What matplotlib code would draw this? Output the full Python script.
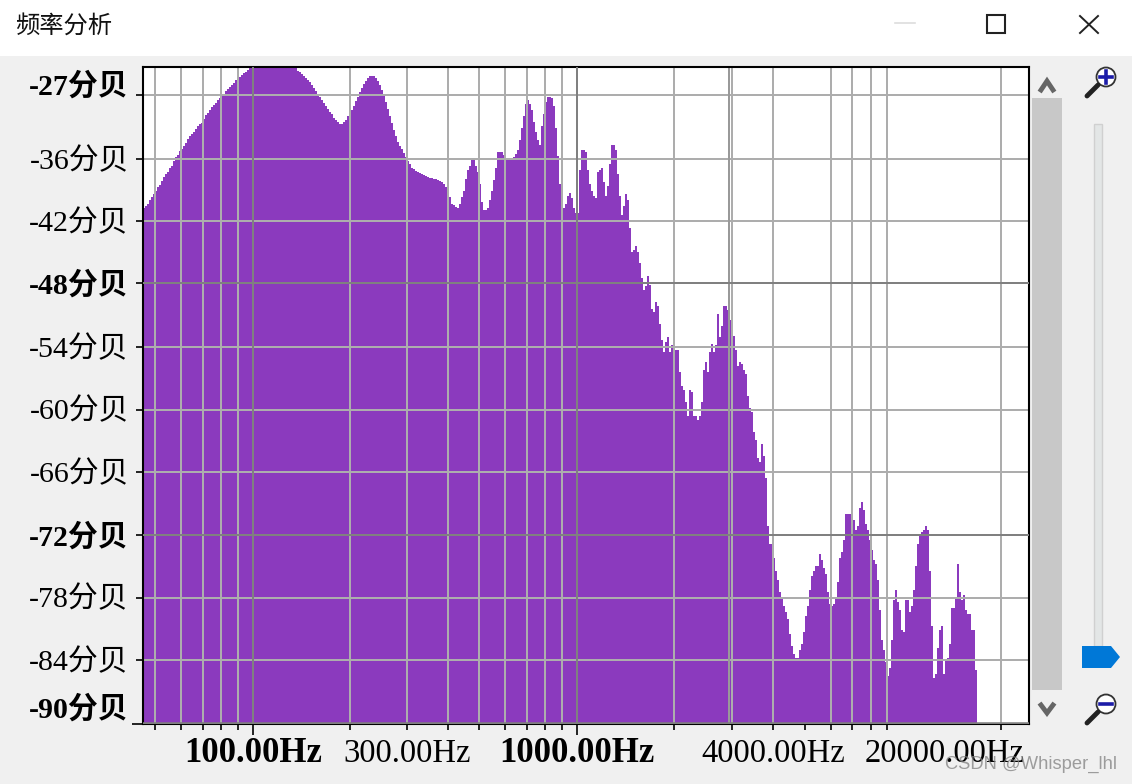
import numpy as np
import matplotlib
matplotlib.use('Agg')
import matplotlib.pyplot as plt
from matplotlib.patches import Rectangle, Polygon, Circle

plt.rcParams['font.family'] = ['Liberation Serif', 'Noto Sans CJK SC', 'DejaVu Sans']

# spectrum level per display bin (dB) left to right
levels_db = [
    -40.7, -40.5, -40.3, -39.9, -39.6, -39.3, -39.0, -38.7, -38.5, -38.1,
    -37.7, -37.4, -37.2, -36.8, -36.6, -36.2, -35.8, -35.6, -35.2, -35.0,
    -34.7, -34.4, -34.1, -33.8, -33.6, -33.4, -33.1, -32.8, -32.6, -32.5,
    -32.1, -31.8, -31.6, -31.3, -31.0, -30.8, -30.6, -30.3, -30.1, -29.9,
    -29.7, -29.5, -29.3, -29.1, -28.9, -28.7, -28.4, -28.3, -28.1, -27.9,
    -27.7, -27.6, -27.4,
    -27.1, -27.0, -26.9, -26.8, -26.7, -26.6, -26.5, -26.5, -26.4, -26.4,
    -26.4, -26.4, -26.4, -26.4, -26.5, -26.5, -26.6, -26.6, -26.7, -26.8,
    -26.9, -27.0, -27.1,
    -27.3, -27.5, -27.6, -27.8, -28.0, -28.2, -28.4, -28.6, -28.9, -29.2,
    -29.5, -29.8, -30.0, -30.3, -30.6, -30.9, -31.2, -31.5, -31.7, -32.0,
    -32.2, -32.4, -32.6, -32.6, -32.4, -32.2, -31.9, -31.7, -31.3, -30.9,
    -30.4, -30.0, -29.6, -29.2, -28.8, -28.5, -28.2, -28.0, -28.0, -28.0,
    -28.2, -28.5, -28.9, -29.4, -29.9, -30.5, -31.2, -31.9, -32.5, -33.2,
    -33.8, -34.3, -34.7, -35.0, -35.4, -35.8, -36.2, -36.5, -36.8, -36.9,
    -37.1, -37.2, -37.3,
    -37.4, -37.5, -37.6, -37.7, -37.8, -37.8, -37.9, -37.9, -38.0, -38.1,
    -38.2, -38.4, -38.7, -39.1, -39.6, -40.3, -40.4, -40.6, -40.7, -40.3,
    -39.6, -39.0, -37.9, -37.0, -36.6, -36.1, -36.1, -36.6, -37.2, -38.4,
    -40.1, -40.9, -40.9, -40.7, -39.9, -39.0, -38.0, -36.8, -35.3, -35.3,
    -35.3, -35.6, -35.9, -35.9, -35.9, -35.9, -35.8, -35.5, -35.1, -34.2,
    -33.0, -31.9, -30.7, -30.3, -30.7, -31.3, -32.4, -33.4, -34.2, -34.6,
    -32.8, -31.7, -30.5, -30.0, -30.0, -30.1, -30.9, -33.0, -35.7, -38.4,
    -40.7, -40.7, -40.3, -39.5, -39.2, -39.7, -40.7, -41.1, -41.1, -37.0,
    -35.1, -35.1, -35.3, -37.0, -38.4, -39.0, -39.5, -39.7, -37.2, -37.0,
    -36.8, -38.2, -39.5, -38.6, -36.5, -34.6, -34.6, -35.1, -37.4, -39.5,
    -41.3, -40.5, -39.3, -39.9, -42.6, -44.9, -44.7, -44.3, -44.9, -45.9,
    -47.4, -48.5, -48.1, -47.2, -48.0, -50.3, -50.6, -49.7, -50.1, -51.8,
    -53.3, -54.5, -53.5, -53.0, -54.5, -53.8, -52.6, -54.3, -54.3, -56.4,
    -57.7, -58.1, -59.3, -60.6, -58.1, -58.3, -60.6, -60.6, -61.0, -60.6,
    -59.3, -56.2, -55.4, -56.4, -54.5, -53.7, -54.5, -53.8, -50.8, -53.0,
    -52.0, -50.1, -50.1, -50.4, -51.4, -52.0, -52.9, -54.3, -55.8, -55.4,
    -55.6, -56.2, -56.6, -58.7, -59.8, -60.2, -62.1, -62.9, -64.6, -65.0,
    -63.3, -64.4, -66.5, -71.1, -72.9, -72.9, -74.2, -75.4, -76.3, -77.5,
    -77.9, -78.8, -79.4, -80.0, -81.5, -82.6, -83.4, -83.8, -83.8, -83.0,
    -82.4, -81.3, -79.8, -78.8, -77.3, -75.9, -75.4, -75.0, -75.0, -73.8,
    -74.4, -75.2, -75.7, -77.5, -78.6, -78.8, -78.6, -78.0, -76.5, -74.2,
    -73.6, -72.5, -70.0, -70.0, -70.0, -70.2, -70.6, -71.5, -71.1, -69.4,
    -68.8, -69.6, -70.9, -71.5, -72.5, -73.4, -74.4, -74.8, -76.3, -79.2,
    -82.1, -83.0, -84.2, -85.5, -84.7, -82.1, -78.2, -77.3, -78.4, -79.2,
    -81.1, -81.3, -78.2, -78.2, -79.4, -78.8, -77.3, -75.0, -72.9, -71.9,
    -71.7, -71.5, -71.1, -71.5, -75.4, -80.7, -85.7, -85.3, -82.8, -81.1,
    -80.7, -85.3, -84.0, -83.8, -82.4, -79.0, -79.0, -77.9, -74.8, -77.5,
    -78.2, -77.7, -79.2, -79.6, -79.6, -81.1, -81.1, -84.9,
]

# the drawn span of the bars and of the axis, in Hz
bars_start_hz = 45.8
bars_end_hz = 17160
axis_end_hz = 24900
bottom_db = -90

y_grid_db = [-29.85, -36, -41.95, -47.85, -54, -60, -66, -72, -78, -84]
y_labels = ['-27分贝', '-36分贝', '-42分贝', '-48分贝', '-54分贝', '-60分贝',
            '-66分贝', '-72分贝', '-78分贝', '-84分贝']
y_bold = ['-27分贝', '-48分贝', '-72分贝', '-90分贝']
y_dark_db = [-47.85, -72]

# the program's own grid sits a little right of the true decades up high
x_grid_hz = [50, 60, 70, 80, 90, 200, 300, 400, 500, 600, 700, 800, 900,
             2000, 3020, 4040, 6080, 7100, 8100, 9100, 20400]
x_major_hz = [100, 1000]
x_odd_line_hz = 2950  # grey line with no tick
x_tick_extra_hz = [5050]
x_labels = {100: '100.00Hz', 300: '300.00Hz', 1000: '1000.00Hz',
            4040: '4000.00Hz', 20400: '20000.00Hz'}

PURPLE = '#8B3ABE'
GRID = '#ADADAD'
GRID_DARK = '#808080'
W, H = 1132, 784

fig = plt.figure(figsize=(W / 100, H / 100), dpi=100, facecolor='#F0F0F0')
ax = fig.add_axes([143 / W, 1 - 724 / H, (1029 - 143) / W, (724 - 67) / H])

edges = np.geomspace(bars_start_hz, bars_end_hz, len(levels_db) + 1)
ax.stairs(levels_db, edges, baseline=bottom_db, fill=True, color=PURPLE, lw=0,
          zorder=1, antialiased=False)
ax.set_xscale('log')
ax.set_xlim(bars_start_hz, axis_end_hz)
ax.set_ylim(bottom_db - 0.1, -27.16)

# grid goes over the bars
for f in x_grid_hz:
    ax.axvline(f, color=GRID, lw=1.44, zorder=2)
for db in y_grid_db:
    dark = db in y_dark_db
    ax.axhline(db, color=GRID_DARK if dark else GRID, lw=1.44, zorder=3 if dark else 2)
for f in x_major_hz:
    ax.axvline(f, color=GRID_DARK, lw=1.44, zorder=3)
ax.axvline(x_odd_line_hz, color='#999999', lw=1.44, zorder=2)
ax.axhline(bottom_db, color=GRID_DARK, lw=1.8, zorder=3)

for s in ax.spines.values():
    s.set_linewidth(1.5)
    s.set_color('black')

ax.minorticks_off()
ax.xaxis.set_minor_locator(matplotlib.ticker.NullLocator())
ax.set_xticks(x_major_hz, labels=[''] * len(x_major_hz))
ax.set_xticks(x_grid_hz + x_tick_extra_hz, labels=[''] * (len(x_grid_hz) + 1), minor=True)
ax.tick_params(axis='x', which='major', length=8, width=1.2, color='black')
ax.tick_params(axis='x', which='minor', length=4.5, width=1.2, color='black')
ax.set_yticks(y_grid_db + [bottom_db - 0.1], labels=[''] * (len(y_grid_db) + 1))
ax.tick_params(axis='y', which='major', length=5, width=1.2, color='black')
ax.yaxis.get_major_ticks()[-1].tick1line.set_markersize(8)

# value labels, the first and last sit off their tick in the original
y_shift = {'-27分贝': 9}
for db, lab in zip(y_grid_db, y_labels):
    ax.annotate(lab, xy=(0, db), xycoords=ax.get_yaxis_transform(),
                xytext=(-14, y_shift.get(lab, -2)), textcoords='offset pixels',
                ha='right', va='center', fontsize=21.5,
                fontweight='bold' if lab in y_bold else 'normal')
ax.annotate('-90分贝', xy=(0, bottom_db), xycoords=ax.get_yaxis_transform(),
            xytext=(-14, 14), textcoords='offset pixels', ha='right', va='center',
            fontsize=21.5, fontweight='bold')

for f, lab in x_labels.items():
    bold = lab in ('100.00Hz', '1000.00Hz')
    ax.annotate(lab, xy=(f, 0), xycoords=ax.get_xaxis_transform(),
                xytext=(-56 if f == 20400 else 0, -30), textcoords='offset pixels',
                ha='center', va='center', fontsize=25 if bold else 23.5,
                fontweight='bold' if bold else 'normal')

# window chrome on top, in pixel coordinates
ui = fig.add_axes([0, 0, 1, 1], zorder=5)
ui.set_xlim(0, W)
ui.set_ylim(H, 0)
ui.axis('off')
ui.add_patch(Rectangle((0, 0), W, 56, color='white', lw=0))
ui.text(15, 26, '频率分析', fontsize=17.5, family=['Noto Sans CJK SC', 'DejaVu Sans'],
        va='center', ha='left', color='#111111')
ui.plot([895, 915], [23, 23], color='#DDDDDD', lw=1.2)
ui.add_patch(Rectangle((987, 15), 18, 18, fill=False, ec='#222222', lw=1.5))
ui.plot([1080, 1098], [16, 33], color='#222222', lw=1.4)
ui.plot([1080, 1098], [33, 16], color='#222222', lw=1.4)

ui.add_patch(Rectangle((1032, 98), 30, 592, color='#C8C8C8', lw=0))
ui.plot([1041, 1047, 1053], [90, 81, 90], color='#666666', lw=3.5, solid_joinstyle='miter')
ui.plot([1041, 1047, 1053], [705, 713, 705], color='#666666', lw=3.5, solid_joinstyle='miter')
ui.add_patch(Rectangle((1094, 124), 8, 522, fc='#E3E6E6', ec='#D0D0D0', lw=1))
ui.add_patch(Polygon([(1082, 646), (1111, 646), (1120, 657), (1111, 668), (1082, 668)],
                     color='#0078D7', lw=0))


def magnifier(cx, cy, minus):
    ui.plot([cx - 8, cx - 19], [cy + 8, cy + 19], color='#222222', lw=3.5, solid_capstyle='round')
    ui.add_patch(Circle((cx, cy), 9.5, fc='white', ec='#333333', lw=1.3))
    ui.plot([cx - 6, cx + 6], [cy, cy], color='#1C1CA8', lw=2.6)
    if not minus:
        ui.plot([cx, cx], [cy - 6, cy + 6], color='#1C1CA8', lw=2.6)


magnifier(1106, 77, False)
magnifier(1106, 704, True)

ui.text(1117, 764, 'CSDN @Whisper_lhl', fontsize=13.2, family='Liberation Sans',
        color='#808080', alpha=0.75, ha='right', va='center')

fig.savefig('out.png', dpi=100, facecolor=fig.get_facecolor())
